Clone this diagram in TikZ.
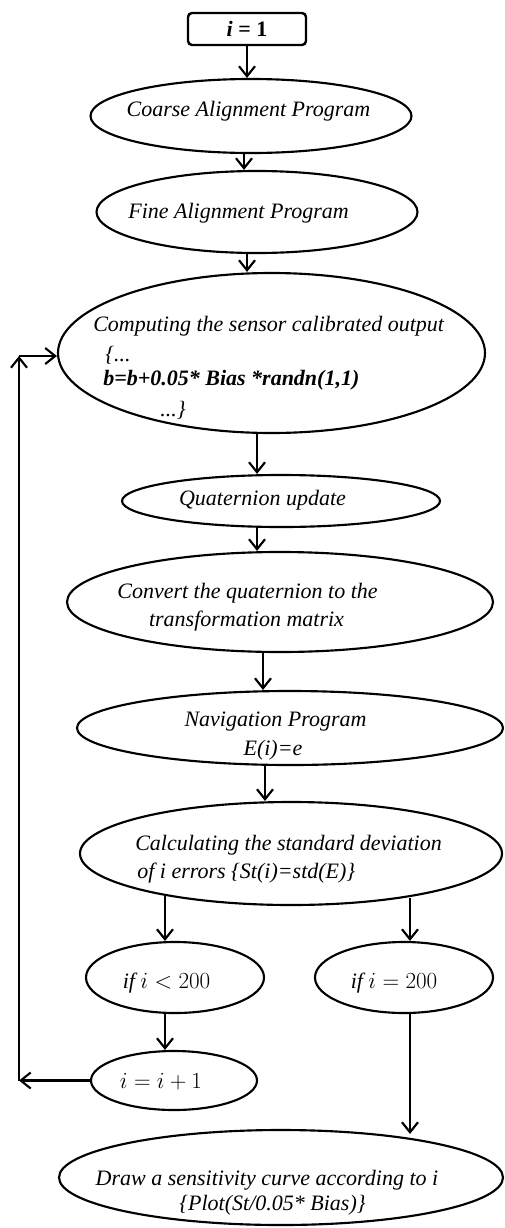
\documentclass[tikz,border=0pt]{standalone}
\usepackage{fontspec}
\setmainfont{Liberation Serif}
\usetikzlibrary{shapes.geometric,arrows.meta,calc}
\newcommand\myfont{\fontsize{16.5}{20}\selectfont}
\newcommand\myit{\fontsize{16.5}{20}\selectfont\itshape}
\newcommand\mybit{\fontsize{16.5}{20}\selectfont\bfseries\itshape}
\begin{document}
\begin{tikzpicture}[x=0.75pt,y=-0.75pt]
\tikzset{
  ell/.style={draw,ellipse,line width=1.6pt,inner sep=0pt,fill=white},
  txt/.style={inner sep=0pt,anchor=base,font=\myit},
  txtw/.style={inner sep=0pt,anchor=base west,font=\myit},
  mtxt/.style={inner sep=0pt,anchor=base,font=\myfont},
  arr/.style={line width=1.6pt,-{Straight Barb[length=7.5pt,width=12pt]}},
  startbox/.style={draw,rounded corners=3pt,line width=1.8pt,minimum width=88.5pt,minimum height=24pt,inner sep=0pt,font=\myfont}
}
\path[use as bounding box] (0,0) rectangle (505,1228);
\node[startbox] (st) at (247,29) {\textbf{\textit{i}} \textbf{=} \textbf{1}};
\node[ell,minimum width=240.75pt,minimum height=55.5pt] (coarse) at (251,116) {};
\node[ell,minimum width=240.75pt,minimum height=61.5pt] (fine) at (257,212) {};
\node[ell,minimum width=320.25pt,minimum height=120pt] (comp) at (271.5,353) {};
\node[ell,minimum width=238.5pt,minimum height=39pt] (quat) at (281,501) {};
\node[ell,minimum width=319.5pt,minimum height=75pt] (conv) at (280,602) {};
\node[ell,minimum width=319.5pt,minimum height=55.5pt] (nav) at (290,728) {};
\node[ell,minimum width=316.5pt,minimum height=77.25pt] (cal) at (291,853.5) {};
\node[ell,minimum width=133.5pt,minimum height=53.25pt] (ifl) at (175,977.5) {};
\node[ell,minimum width=133.5pt,minimum height=53.25pt] (ifr) at (404,977.5) {};
\node[ell,minimum width=124.5pt,minimum height=44.25pt] (inc) at (174,1080.5) {};
\node[ell,minimum width=333pt,minimum height=71.25pt] (drw) at (281,1177.5) {};
\node[txt] (tcoarse) at (248.5,116) {Coarse Alignment Program};
\node[txt] (tfine) at (238.5,218) {Fine Alignment Program};
\node[txtw] (tcomp1) at (93,331) {Computing the sensor calibrated output};
\node[txtw] (tcomp2) at (105,361) {\{...};
\node[txtw,font=\mybit] (tcomp3) at (103,385) {b=b+0.05* Bias *randn(1,1)};
\node[txtw] (tcomp4) at (160,416) {...\}};
\node[txt] (tquat) at (262.5,505) {Quaternion update};
\node[txt] (tconv1) at (247.5,598) {Convert the quaternion to the};
\node[txt] (tconv2) at (246.5,626) {transformation matrix};
\node[txt] (tnav1) at (275.5,726) {Navigation Program};
\node[txt] (tnav2) at (273,755) {E(i)=e};
\node[txtw] (tcalc1) at (135,850) {Calculating the standard deviation};
\node[txtw] (tcalc2) at (137,878) {of i errors \{St(i)=std(E)\}};
\node[mtxt] (tifl) at (166.5,988) {$\mathit{if}\ i<200$};
\node[mtxt] (tifr) at (394,988) {$\mathit{if}\ i=200$};
\node[mtxt] (tinc) at (161,1088) {$i=i+1$};
\node[txt] (tdraw1) at (267,1185) {Draw a sensitivity curve according to i};
\node[txt] (tdraw2) at (272.5,1210) {\{Plot(St/0.05* Bias)\}};
\coordinate (x244) at (244,0);
\coordinate (x247) at (247,0);
\coordinate (x257) at (257,0);
\coordinate (x263) at (263,0);
\coordinate (x265) at (265,0);
\coordinate (x165) at (165,0);
\coordinate (x410) at (410,0);
\coordinate (lb) at (19,1080.5);
\coordinate (lt) at (19,356);
\draw[arr] (st.south) -- (coarse.north -| x247);
\draw[arr] (coarse.south -| x244) -- (fine.north -| x244);
\draw[arr] (fine.south -| x247) -- (comp.north -| x247);
\draw[arr] (comp.south -| x257) -- (quat.north -| x257);
\draw[arr] (quat.south -| x257) -- (conv.north -| x257);
\draw[arr] (conv.south -| x263) -- (nav.north -| x263);
\draw[arr] (nav.south -| x265) -- (cal.north -| x265);
\draw[arr] ($(cal.south -| x165)+(0,-10)$) -- (ifl.north -| x165);
\draw[arr] ($(cal.south -| x410)+(0,-8)$) -- (ifr.north -| x410);
\draw[arr] (ifl.south -| x165) -- (inc.north -| x165);
\draw[arr] (ifr.south -| x410) -- ($(drw.north -| x410)+(0,5)$);
\draw[arr] (inc.west) -- (lb);
\draw[arr] (lb) -- (lt);
\draw[arr] (lt) -- (lt -| comp.west);
\end{tikzpicture}
\end{document}
